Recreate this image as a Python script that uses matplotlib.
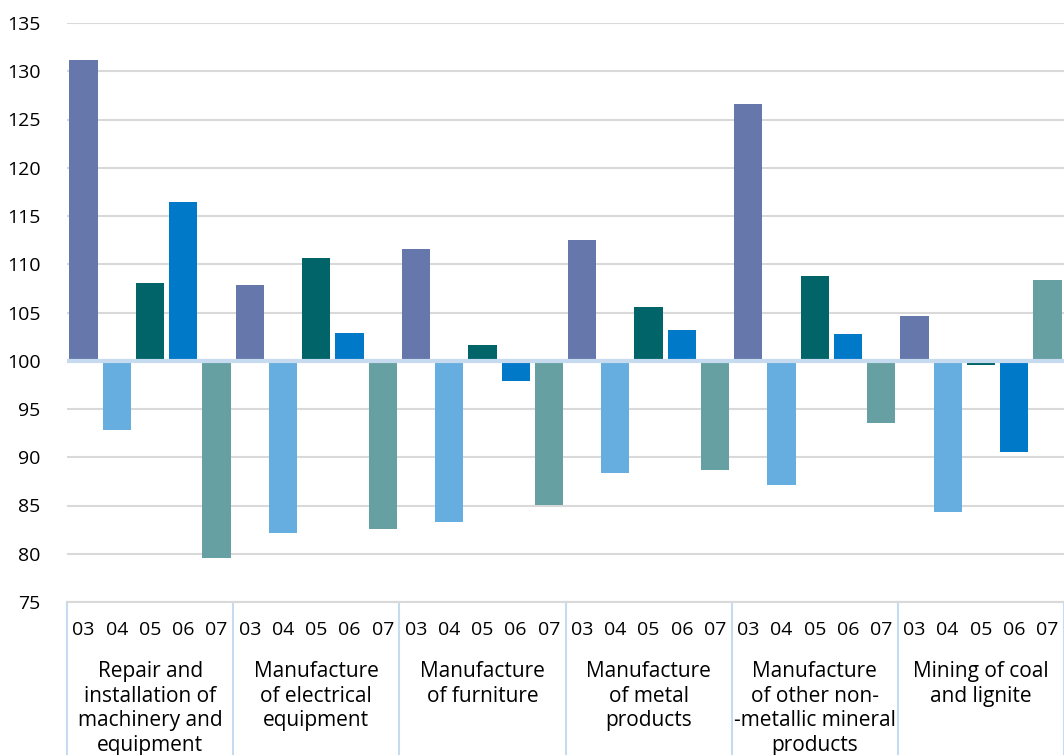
import numpy as np
import matplotlib
matplotlib.use('Agg')
import matplotlib.pyplot as plt

groups = ["Repair and\ninstallation of\nmachinery and\nequipment",
          "Manufacture\nof electrical\nequipment",
          "Manufacture\nof furniture",
          "Manufacture\nof metal\nproducts",
          "Manufacture\nof other non-\n-metallic mineral\nproducts",
          "Mining of coal\nand lignite"]
months = ["03", "04", "05", "06", "07"]

m03 = [131.2, 107.8, 111.6, 112.5, 126.6, 104.6]
m04 = [92.8, 82.1, 83.3, 88.4, 87.1, 84.3]
m05 = [108.1, 110.6, 101.6, 105.6, 108.8, 99.6]
m06 = [116.5, 102.9, 97.9, 103.2, 102.8, 90.5]
m07 = [79.6, 82.6, 85.1, 88.7, 93.6, 108.4]

colors = ["#6677AB", "#67AEE0", "#006468", "#0079C9", "#66A0A2"]

plt.rcParams['font.family'] = ['Open Sans', 'DejaVu Sans']

fig = plt.figure(figsize=(10.64, 7.55), dpi=100)
ax = fig.add_axes([67/1064, 153/755, 997/1064, 579/755])

series = [m03, m04, m05, m06, m07]
n = len(months)
for j, vals in enumerate(series):
    x = np.arange(len(groups)) * n + j
    v = np.array(vals)
    ax.bar(x, v - 100, bottom=100, width=0.85, color=colors[j], zorder=3)

ax.set_xlim(-0.5, len(groups) * n - 0.5)
ax.set_ylim(75, 135)
ax.set_yticks(np.arange(75, 136, 5))
ax.grid(axis='y', color='#D9D9D9', linewidth=1.5, zorder=0)
ax.axhline(100, color='#C6DAF0', linewidth=3, zorder=4)
ax.axhline(75, color='#D9D9D9', linewidth=1.5, zorder=4, clip_on=False)
for s in ax.spines.values():
    s.set_visible(False)

ax.set_xticks(np.arange(len(groups) * n))
ax.set_xticklabels(months * len(groups), fontsize=14)
ax.tick_params(axis='x', length=0, pad=14)
ax.tick_params(axis='y', length=0, pad=19, labelsize=14)

trans = ax.get_xaxis_transform()
for i in range(len(groups) + 1):
    ax.plot([i * n - 0.5, i * n - 0.5], [0, -0.3], color='#C6DAF0',
            linewidth=1.5, transform=trans, clip_on=False)
for i, g in enumerate(groups):
    ax.text(i * n + 2, -0.102, g, transform=trans, ha='center', va='top',
            fontsize=15, linespacing=1.22)

fig.savefig("out.png", dpi=100)
